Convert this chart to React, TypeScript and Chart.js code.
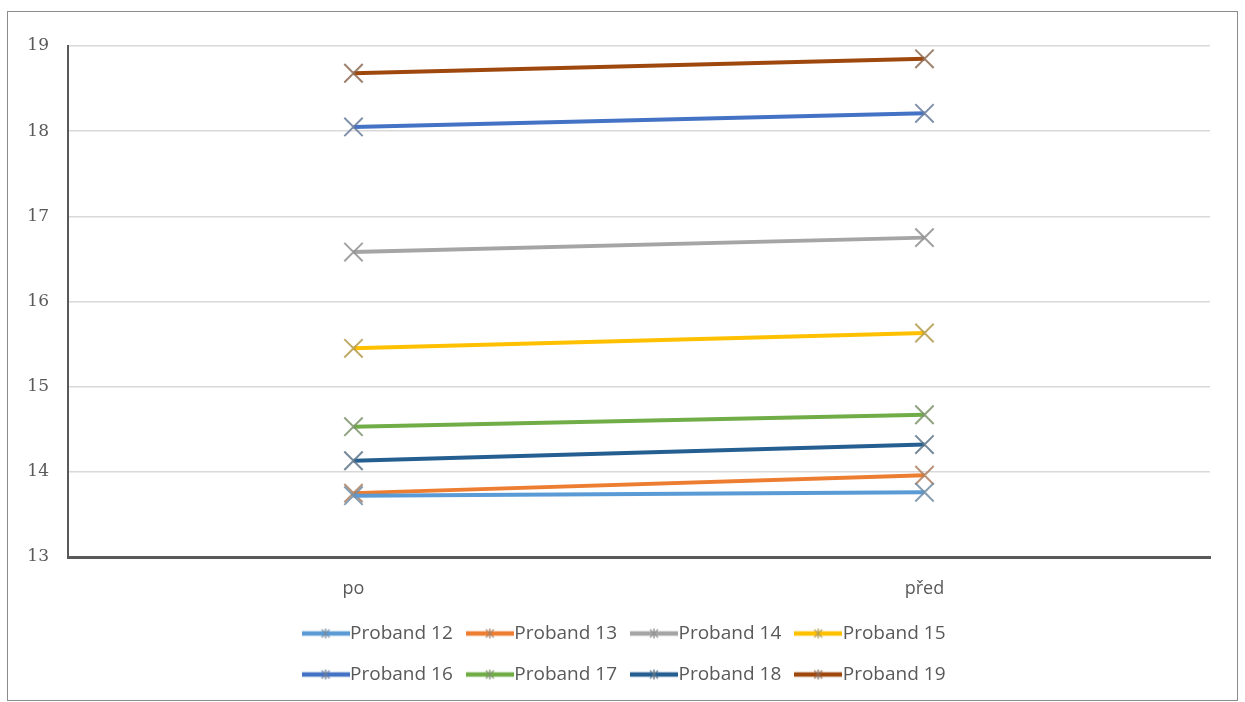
import React, { useEffect, useRef } from "react";
import { Chart, registerables, Legend } from "chart.js";

Chart.register(...registerables);

const categories = ["po", "před"];
const seriesNames = [
  "Proband 12",
  "Proband 13",
  "Proband 14",
  "Proband 15",
  "Proband 16",
  "Proband 17",
  "Proband 18",
  "Proband 19",
];
const proband12 = [13.72, 13.76];
const proband13 = [13.75, 13.96];
const proband14 = [16.58, 16.75];
const proband15 = [15.45, 15.63];
const proband16 = [18.05, 18.21];
const proband17 = [14.53, 14.67];
const proband18 = [14.13, 14.32];
const proband19 = [18.68, 18.85];
const seriesValues = [
  proband12,
  proband13,
  proband14,
  proband15,
  proband16,
  proband17,
  proband18,
  proband19,
];
const seriesColors = [
  "#5B9BD5",
  "#ED7D31",
  "#A5A5A5",
  "#FFC000",
  "#4472C4",
  "#70AD47",
  "#255E91",
  "#9E480E",
];
const yTicks = [13, 14, 15, 16, 17, 18, 19];

// Limit the width used for wrapping legend rows (4 items per row).
const LegendElement: any = (Legend as any)._element;
if (LegendElement && !LegendElement.prototype.__limited) {
  const origUpdate = LegendElement.prototype.update;
  LegendElement.prototype.update = function (mw: number, mh: number, m: any) {
    const lim = this.options && this.options.rowWidth;
    return origUpdate.call(this, lim ? Math.min(mw, lim) : mw, mh, m);
  };
  LegendElement.prototype.__limited = true;
}

const legendNarrow = {
  id: "legendNarrow",
  afterLayout(chart: any) {
    const lg = chart.legend;
    if (!lg) return;
    const center = 620;
    const half = 345;
    lg.left = center - half;
    lg.right = center + half;
    lg.width = half * 2;
  },
};

function hexToRgb(hex: string) {
  const n = parseInt(hex.slice(1), 16);
  return [(n >> 16) & 255, (n >> 8) & 255, n & 255];
}

function markerColor(hex: string) {
  const [r, g, b] = hexToRgb(hex);
  const mix = (c: number) => Math.round(c * 0.4 + 130 * 0.6);
  return `rgba(${mix(r)},${mix(g)},${mix(b)},0.85)`;
}

function legendImage(hex: string) {
  const c = document.createElement("canvas");
  c.width = 48;
  c.height = 12;
  const ctx = c.getContext("2d")!;
  ctx.strokeStyle = hex;
  ctx.lineWidth = 4.5;
  ctx.beginPath();
  ctx.moveTo(0, 6);
  ctx.lineTo(48, 6);
  ctx.stroke();
  ctx.strokeStyle = markerColor(hex);
  ctx.lineWidth = 1.5;
  ctx.beginPath();
  ctx.moveTo(20, 2);
  ctx.lineTo(28, 10);
  ctx.moveTo(28, 2);
  ctx.lineTo(20, 10);
  ctx.moveTo(24, 1);
  ctx.lineTo(24, 11);
  ctx.stroke();
  return c;
}

export default function App() {
  const ref = useRef<HTMLCanvasElement | null>(null);

  useEffect(() => {
    if (!ref.current) return;
    const images = seriesColors.map((c) => legendImage(c));
    const chart = new Chart(ref.current, {
      type: "line",
      data: {
        labels: categories,
        datasets: seriesNames.map((name, i) => ({
          label: name,
          data: seriesValues[i],
          borderColor: seriesColors[i],
          backgroundColor: seriesColors[i],
          borderWidth: 4,
          pointStyle: "crossRot",
          pointRadius: 13,
          pointBorderWidth: 2,
          pointBorderColor: markerColor(seriesColors[i]),
          pointHoverRadius: 13,
          tension: 0,
        })),
      },
      options: {
        animation: false,
        responsive: false,
        devicePixelRatio: 1,
        layout: { padding: { left: 0, right: 27, top: 34, bottom: 6 } },
        plugins: {
          tooltip: { enabled: false },
          legend: {
            position: "bottom",
            rowWidth: 690,
            labels: {
              usePointStyle: true,
              pointStyleWidth: 30,
              padding: 22,
              color: "#595959",
              font: { family: "'Open Sans', sans-serif", size: 19 },
              generateLabels: (ch: any) =>
                ch.data.datasets.map((ds: any, i: number) => ({
                  text: ds.label,
                  pointStyle: images[i],
                  fillStyle: "transparent",
                  strokeStyle: "transparent",
                  lineWidth: 0,
                  fontColor: "#595959",
                  hidden: false,
                  datasetIndex: i,
                })),
            },
          },
        },
        scales: {
          x: {
            type: "category",
            offset: true,
            afterFit: (s: any) => {
              s.height = 45;
            },
            grid: { display: false, drawTicks: false },
            border: { display: true, color: "#595959", width: 3 },
            ticks: {
              padding: 21,
              color: "#595959",
              font: { family: "'Open Sans', sans-serif", size: 18 },
            },
          },
          y: {
            min: 13,
            max: 19,
            afterFit: (s: any) => {
              s.width = 60;
            },
            afterBuildTicks: (s: any) => {
              s.ticks = yTicks.map((v) => ({ value: v }));
            },
            grid: { color: "#d9d9d9", lineWidth: 1.5, drawTicks: false },
            border: { display: true, color: "#595959", width: 2 },
            ticks: {
              padding: 19,
              color: "#595959",
              font: { family: "'DejaVu Serif', serif", size: 17 },
            },
          },
        },
      },
      plugins: [legendNarrow],
    } as any);
    return () => chart.destroy();
  }, []);

  return (
    <div
      style={{
        position: "absolute",
        left: 7,
        top: 11,
        width: 1231,
        height: 690,
        border: "1px solid #8c8c8c",
        boxSizing: "border-box",
        background: "#fff",
      }}
    >
      <canvas ref={ref} width={1229} height={688} style={{ display: "block" }} />
    </div>
  );
}
